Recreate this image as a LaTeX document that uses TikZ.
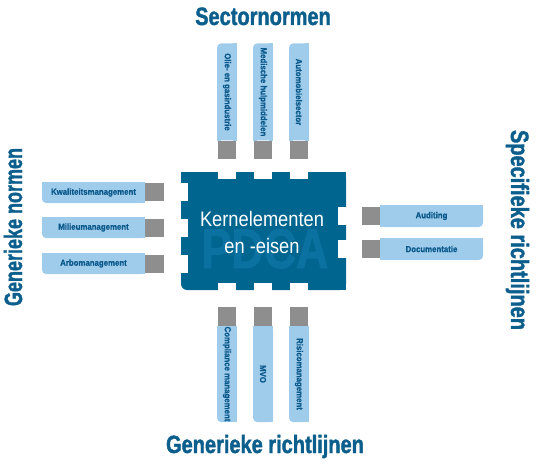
\documentclass[tikz,border=0pt]{standalone}
\usepackage{fontspec}
\usepackage{graphicx}
\setmainfont{Liberation Sans}
\newfontfamily\headfont[FakeStretch=0.8,FakeBold=1.5]{Liberation Sans Bold}
\newfontfamily\barfont[FakeStretch=0.9,FakeBold=1]{Liberation Sans Bold}
\newfontfamily\corefont[FakeStretch=0.87]{Liberation Sans}
\definecolor{coreblue}{HTML}{00658F}
\definecolor{pdcablue}{HTML}{0A71A0}
\definecolor{headblue}{HTML}{0C5E8C}
\definecolor{barblue}{HTML}{A0CCEC}
\definecolor{bartext}{HTML}{0B5A8C}
\definecolor{plug}{HTML}{8E8E8E}
\newcommand{\sqfix}[4]{\fill[barblue] (#1.#2) rectangle ++(#3,#4);}
\begin{document}
\begin{tikzpicture}[x=1pt,y=-1pt,
  hbar/.style={fill=barblue, rounded corners=4pt, inner sep=0pt, minimum width=103pt, minimum height=21pt, text=bartext, font=\barfont\fontsize{8.7}{9}\selectfont},
  vbar/.style={fill=barblue, rounded corners=4pt, inner sep=0pt, minimum width=20pt, minimum height=97pt, text=bartext, font=\barfont\fontsize{8.7}{9}\selectfont},
  hplug/.style={fill=plug, inner sep=0pt, minimum width=19pt, minimum height=18pt},
  vplug/.style={fill=plug, inner sep=0pt, minimum width=18pt, minimum height=18pt},
  heading/.style={text=headblue, inner sep=0pt, font=\headfont\fontsize{25}{25}\selectfont}
]
\useasboundingbox (0,0) rectangle (540,465);

% core block
\node[fill=coreblue, rounded corners=6pt, minimum width=165pt, minimum height=118pt, inner sep=0pt] (core) at (263.5,231) {};
\fill[coreblue] (core.north west) rectangle ++(6,6);
\fill[coreblue] (core.north east) rectangle ++(-6,6);
\fill[coreblue] (core.south east) rectangle ++(-6,-6);
\node[anchor=base, text=pdcablue, inner sep=0pt, font=\headfont\fontsize{56}{56}\selectfont] (pdca) at (265,268) {PDCA};
\foreach \x in {227,263,299} {
  \fill[white] (\x-9,171) rectangle (\x+9,179);
  \fill[white] (\x-9,283) rectangle (\x+9,291);
}
\foreach \y in {192,228,264} \fill[white] (180,\y-9) rectangle (188,\y+9);
\foreach \y in {216,249} \fill[white] (338,\y-9) rectangle (347,\y+9);
\node[text=white, align=center, inner sep=0pt, font=\corefont\fontsize{21}{27}\selectfont] (coretext) at (262,232) {Kernelementen\\en -eisen};

% top bars
\node[vbar] (s1) at (227,92) {\rotatebox{-90}{Olie- en gasindustrie}};
\node[vbar] (s2) at (263,92) {\rotatebox{-90}{Medische hulpmiddelen}};
\node[vbar] (s3) at (299,92) {\rotatebox{-90}{Automobielsector}};
\foreach \n in {s1,s2,s3} {\sqfix{\n}{north east}{-4}{4} \sqfix{\n}{south east}{-4}{-4} \sqfix{\n}{south west}{4}{-4}}
\node[vplug] (ps1) at (227,150) {};
\node[vplug] (ps2) at (263,150) {};
\node[vplug] (ps3) at (299,150) {};

% bottom bars
\node[vbar, minimum height=96pt] (g1) at (227,374) {\rotatebox{-90}{Compliance management}};
\node[vbar, minimum height=96pt] (g2) at (263,374) {\rotatebox{-90}{MVO}};
\node[vbar, minimum height=96pt] (g3) at (299,374) {\rotatebox{-90}{Risicomanagement}};
\foreach \n in {g1,g2,g3} {\sqfix{\n}{north west}{4}{4} \sqfix{\n}{north east}{-4}{4} \sqfix{\n}{south east}{-4}{-4}}
\node[vplug, minimum height=19pt] (pg1) at (227,316.5) {};
\node[vplug, minimum height=19pt] (pg2) at (263,316.5) {};
\node[vplug, minimum height=19pt] (pg3) at (299,316.5) {};

% left bars
\node[hbar] (n1) at (93.5,192.5) {Kwaliteitsmanagement};
\node[hbar] (n2) at (93.5,227.5) {Milieumanagement};
\node[hbar] (n3) at (93.5,263.5) {Arbomanagement};
\foreach \n in {n1,n2,n3} {\sqfix{\n}{north west}{4}{4} \sqfix{\n}{north east}{-4}{4} \sqfix{\n}{south east}{-4}{-4}}
\node[hplug] (pn1) at (154.5,192) {};
\node[hplug] (pn2) at (154.5,228) {};
\node[hplug] (pn3) at (154.5,264) {};

% right bars
\node[hbar, minimum height=22pt] (r1) at (431.5,216) {Auditing};
\node[hbar, minimum height=22pt] (r2) at (431.5,249) {Documentatie};
\foreach \n in {r1,r2} {\sqfix{\n}{north west}{4}{4} \sqfix{\n}{north east}{-4}{4} \sqfix{\n}{south west}{4}{-4}}
\node[hplug, minimum width=18pt] (pr1) at (371,216) {};
\node[hplug, minimum width=18pt] (pr2) at (371,249) {};

% headings
\node[heading, anchor=base] (hs) at (263,25) {Sectornormen};
\node[heading, anchor=base] (hg) at (265,453) {Generieke richtlijnen};
\node[heading, anchor=base, rotate=90] (hn) at (22,227) {\scalebox{0.9}[1]{Generieke normen}};
\node[heading, anchor=base, rotate=-90] (hr) at (511,230) {Specifieke richtlijnen};
\end{tikzpicture}
\end{document}
